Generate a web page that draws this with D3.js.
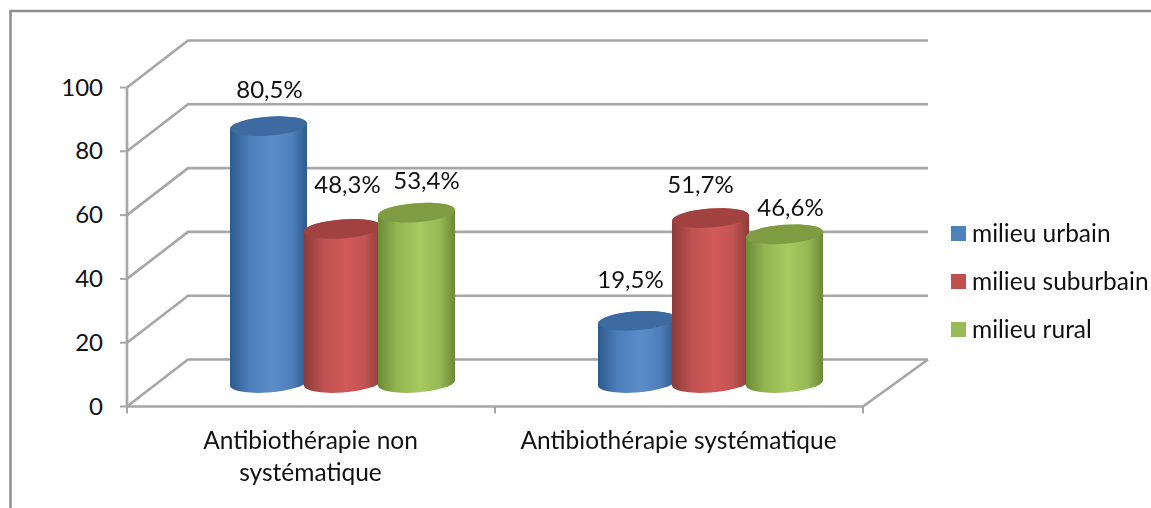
<!DOCTYPE html>
<html><head><meta charset="utf-8">
<script src="https://cdn.jsdelivr.net/npm/d3@7"></script>
<style>html,body{margin:0;padding:0;background:#fff}svg{display:block}text{font-family:Lato,"Open Sans",sans-serif;fill:#111}</style>
</head><body><svg id="c" width="1151" height="508"></svg>
<script>
const categories = ["Antibiothérapie non systématique", "Antibiothérapie systématique"];
const seriesNames = ["milieu urbain", "milieu suburbain", "milieu rural"];
const urbain = [80.5, 19.5];
const suburbain = [48.3, 51.7];
const rural = [53.4, 46.6];
const yTicks = [0, 20, 40, 60, 80, 100];
const palette = [
  {key:"b", edge:"#2c5a8f", mid:"#5a8dc9", top:"#3c6aa0", flat:"#4f81bd"},
  {key:"r", edge:"#8c3c3a", mid:"#d25a58", top:"#a24341", flat:"#c0504d"},
  {key:"g", edge:"#6b8a38", mid:"#a6c95f", top:"#7f9c42", flat:"#9bbb59"}
];
const series = [urbain, suburbain, rural];
const W = 1151, H = 508;
const svg = d3.select("#c");
const defs = svg.append("defs");
palette.forEach(p => {
  const g = defs.append("linearGradient").attr("id","grad"+p.key).attr("x1","0").attr("x2","1").attr("y1","0").attr("y2","0");
  [[0,p.edge],[.25,d3.interpolateRgb(p.edge,p.mid)(.7)],[.55,p.mid],[.8,d3.interpolateRgb(p.edge,p.mid)(.75)],[1,p.edge]]
    .forEach(s => g.append("stop").attr("offset",s[0]).attr("stop-color",s[1]));
});
defs.append("filter").attr("id","soft").attr("x","-5%").attr("y","-5%").attr("width","110%").attr("height","110%")
  .append("feGaussianBlur").attr("stdDeviation",0.6);

const y = d3.scaleLinear().domain([0,100]).range([406.5,87.5]);
const x = d3.scaleBand().domain(categories).range([127,863]);
const depthX = 61, depthY = -47;
const inner = d3.scaleBand().domain(seriesNames).range([-111,111]);
const grid = "#a6a6a6";

// outer frame
const frame = svg.append("g").attr("stroke","#8e8e8e").attr("stroke-width",2.5).attr("fill","none");
frame.append("path").attr("d",`M${W},11 L10.5,11 L10.5,${H}`);

// walls, floor and axes
const walls = svg.append("g").attr("fill","none").attr("stroke",grid).attr("stroke-width",2.6).attr("filter","url(#soft)");
const back = 127 + depthX, right = 863 + depthX + 4;
yTicks.forEach(t => {
  walls.append("path").attr("d",`M127,${y(t)} L${back},${y(t)+depthY} L${right},${y(t)+depthY}`);
});
walls.append("path").attr("d",`M${right},${y(0)+depthY} L863,${y(0)}`);
walls.append("path").attr("d",`M127,${y(100)} L127,${y(0)} L863,${y(0)}`);
yTicks.forEach(t => walls.append("path").attr("stroke-width",2).attr("d",`M120,${y(t)} H127`));
[127,495,863].forEach(t => walls.append("path").attr("stroke-width",2).attr("d",`M${t},${y(0)} V${y(0)+7}`));

// tick labels
const fs = 24.5, fsNum = 24;
svg.append("g").selectAll("text").data(yTicks).join("text")
  .attr("x",103).attr("y",d=>y(d)+8).attr("text-anchor","end").attr("font-size",fsNum).text(d=>d);

// cylinders
const rx = 38.5, ry = 9.5;
const labelNudge = [[1,2],[5,-6],[10,6],[-6,-3],[-10,5],[6,12]];
const barsG = svg.append("g").attr("filter","url(#soft)");
const labels = [];
categories.forEach((cat,i) => {
  const cx0 = x(cat) + x.bandwidth()/2 + depthX/2 + 1;
  series.forEach((vals,s) => {
    const cx = cx0 + inner(seriesNames[s]) + inner.bandwidth()/2;
    const yb = y(0) + depthY/2, yt = y(vals[i]) + depthY/2;
    const p = palette[s];
    const g = barsG.append("g").attr("transform",`translate(${cx},0) skewY(-4)`);
    g.append("path").attr("fill",`url(#grad${p.key})`)
      .attr("d",`M${-rx},${yt} L${-rx},${yb} A${rx},${ry} 0 0 0 ${rx},${yb} L${rx},${yt} A${rx},${ry} 0 0 0 ${-rx},${yt} Z`);
    g.append("ellipse").attr("cx",0).attr("cy",yt).attr("rx",rx).attr("ry",ry).attr("fill",p.top);
    const n = labelNudge[i*3+s];
    labels.push({x:cx+n[0], y:yt-38+n[1], t:String(vals[i]).replace(".",",")+"%"});
  });
});
svg.append("g").selectAll("text").data(labels).join("text")
  .attr("x",d=>d.x).attr("y",d=>d.y+8).attr("text-anchor","middle").attr("font-size",fsNum).text(d=>d.t);

// category labels
const catLines = [["Antibiothérapie non","systématique"],["Antibiothérapie systématique"]];
const catCenters = [310.5, 678.5];
categories.forEach((c,i) => {
  catLines[i].forEach((l,j) => svg.append("text").attr("x",catCenters[i]).attr("y",449+j*32)
    .attr("text-anchor","middle").attr("font-size",fs).text(l));
});

// legend
const leg = svg.append("g");
seriesNames.forEach((n,i) => {
  const ly = 233.5 + i*48;
  leg.append("rect").attr("x",951).attr("y",ly-7.5).attr("width",15).attr("height",15).attr("fill",palette[i].flat);
  leg.append("text").attr("x",972).attr("y",ly+8).attr("font-size",fs).text(n);
});
</script></body></html>
